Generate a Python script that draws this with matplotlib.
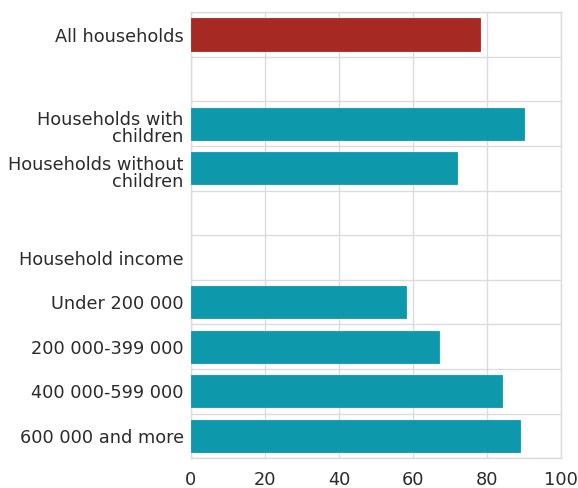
import numpy as np
import matplotlib
matplotlib.use("Agg")
import matplotlib.pyplot as plt
import matplotlib.transforms as mtransforms

# rows top to bottom, blank strings are spacer rows
labels = ["All households", "", "Households with\nchildren",
          "Households without\nchildren", "", "Household income",
          "Under 200 000", "200 000-399 000", "400 000-599 000",
          "600 000 and more"]
values = [78, None, 90, 72, None, None, 58, 67, 84, 89]
colors = ["#a62a23", None, "#0e98ab", "#0e98ab", None, None,
          "#0e98ab", "#0e98ab", "#0e98ab", "#0e98ab"]
xticks = [0, 20, 40, 60, 80, 100]

plt.rcParams['font.family'] = ['DejaVu Sans']

fig = plt.figure(figsize=(5.78, 4.88), dpi=100)
ax = fig.add_axes([0.330, 0.061, 0.641, 0.914])

n = len(labels)
pos = np.arange(n)
for i in range(n):
    if values[i] is None:
        continue
    ax.barh(pos[i], values[i], height=0.72, color=colors[i],
            edgecolor=colors[i], linewidth=0.6, zorder=3)

ax.set_xlim(0, 100)
ax.set_ylim(n - 0.5, -0.5)
ax.set_xticks(xticks)
ax.set_yticks(pos)
# one-line labels as tick labels, two-line ones drawn a little lower
ax.set_yticklabels([l if "\n" not in l else "" for l in labels])
ax.set_yticks(np.arange(n + 1) - 0.5, minor=True)

shift = mtransforms.ScaledTranslation(-7 / 100, -5 / 100, fig.dpi_scale_trans)
for i, l in enumerate(labels):
    if "\n" in l:
        ax.text(0, pos[i], l, transform=ax.get_yaxis_transform() + shift,
                ha="right", va="center", fontsize=12.8, color="#2b2b2b",
                linespacing=0.95)

ax.grid(axis="x", color="#dcdce0", linewidth=1.0, zorder=0)
ax.grid(axis="y", which="minor", color="#dcdce0", linewidth=1.0, zorder=0)
ax.grid(axis="y", which="major", visible=False)

for s in ax.spines.values():
    s.set_color("#dcdce0")
    s.set_linewidth(1.0)

ax.tick_params(axis="both", which="both", length=0, labelsize=12.8,
               labelcolor="#2b2b2b")
ax.tick_params(axis="y", pad=5)
ax.tick_params(axis="x", pad=9)

fig.savefig("out.png", dpi=100)
